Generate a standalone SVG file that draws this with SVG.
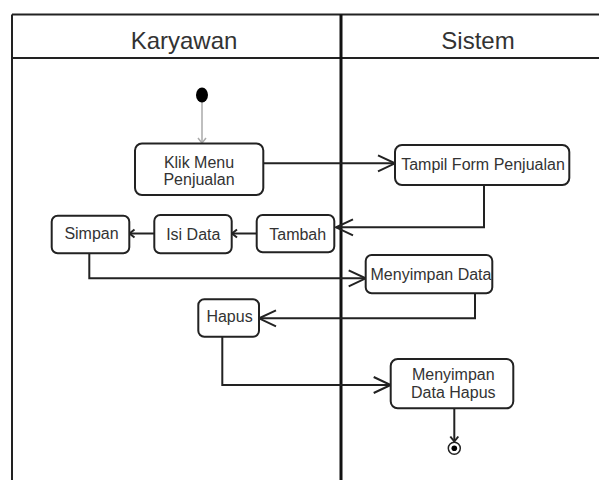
<svg xmlns="http://www.w3.org/2000/svg" width="599" height="480" viewBox="0 0 599 480">
<style>
.lane{stroke:#222;stroke-width:2;fill:none}
.div{stroke:#111;stroke-width:3;fill:none}
.box{fill:#fff;stroke:#222;stroke-width:2}
.t{font-family:"Liberation Sans",Arial,sans-serif;font-size:16px;fill:#333;text-anchor:middle}
.h{font-family:"Liberation Sans",Arial,sans-serif;font-size:24px;fill:#333;text-anchor:middle}
.c{stroke:#222;stroke-width:2;fill:none}
</style>
<defs>
<marker id="open" markerUnits="userSpaceOnUse" viewBox="-20 -10 22 20" refX="0" refY="0" markerWidth="22" markerHeight="20" orient="auto" overflow="visible">
<path d="M-17,-8 L0,0 L-17,8" fill="none" stroke="#222" stroke-width="2"/>
</marker>
<marker id="small" markerUnits="userSpaceOnUse" viewBox="-8 -6 10 12" refX="0" refY="0" markerWidth="10" markerHeight="12" orient="auto" overflow="visible">
<path d="M-5,-4 L0,0 L-5,4" fill="none" stroke="#222" stroke-width="2"/>
</marker>
<marker id="gray" markerUnits="userSpaceOnUse" viewBox="-8 -6 10 12" refX="0" refY="0" markerWidth="10" markerHeight="12" orient="auto" overflow="visible">
<path d="M-5,-4 L0,0 L-5,4" fill="none" stroke="#aaa" stroke-width="1.5"/>
</marker>
</defs>
<rect width="599" height="480" fill="#fff"/>
<g id="swimlanes">
<line class="lane" x1="12" y1="14.5" x2="599" y2="14.5"/>
<line class="lane" x1="12" y1="58" x2="599" y2="58"/>
<line class="lane" x1="12" y1="14.5" x2="12" y2="480"/>
<line class="div" x1="341" y1="14.5" x2="341" y2="480"/>
<text class="h" x="184" y="48.5">Karyawan</text>
<text class="h" x="478" y="48.5">Sistem</text>
</g>
<g id="connectors">
<line x1="202" y1="102" x2="202" y2="143" stroke="#aaa" stroke-width="1.5" marker-end="url(#gray)"/>
<path class="c" d="M263,163.3 L395,163.3" marker-end="url(#open)"/>
<path class="c" d="M484,185 L484,227.3 L336,227.3" marker-end="url(#open)"/>
<path class="c" d="M256.7,233.5 L232,233.5" marker-end="url(#small)"/>
<path class="c" d="M154.3,233.5 L129.5,233.5" marker-end="url(#small)"/>
<path class="c" d="M89.3,253.3 L89.3,278.3 L365.7,278.3" marker-end="url(#open)"/>
<path class="c" d="M475,293.3 L475,318.3 L259,318.3" marker-end="url(#open)"/>
<path class="c" d="M222.3,336.7 L222.3,385 L390.7,385" marker-end="url(#open)"/>
<path class="c" d="M454.3,408.3 L454.3,441.5" marker-end="url(#small)"/>
</g>
<g id="start">
<ellipse cx="202" cy="95" rx="6" ry="7.5" fill="#000"/>
</g>
<g id="klik-menu">
<rect class="box" x="135" y="143.5" width="128.3" height="51.5" rx="7"/>
<text class="t" x="199" y="167.5">Klik Menu</text>
<text class="t" x="199" y="185">Penjualan</text>
</g>
<g id="tampil-form">
<rect class="box" x="395" y="145" width="174.3" height="40" rx="7"/>
<text class="t" x="483" y="169.5">Tampil Form Penjualan</text>
</g>
<g id="tambah">
<rect class="box" x="256.7" y="215" width="77.6" height="37.3" rx="6"/>
<text class="t" x="297.7" y="239.5">Tambah</text>
</g>
<g id="isi-data">
<rect class="box" x="154.3" y="215" width="77.4" height="38.3" rx="6"/>
<text class="t" x="193.3" y="239.5">Isi Data</text>
</g>
<g id="simpan">
<rect class="box" x="51.7" y="215.7" width="77.6" height="37.6" rx="6"/>
<text class="t" x="91.5" y="238.5">Simpan</text>
</g>
<g id="menyimpan-data">
<rect class="box" x="365.7" y="255" width="126.6" height="38.3" rx="6"/>
<text class="t" x="431" y="279.5">Menyimpan Data</text>
</g>
<g id="hapus">
<rect class="box" x="198.3" y="299.3" width="60.7" height="37.4" rx="6"/>
<text class="t" x="229.5" y="322">Hapus</text>
</g>
<g id="menyimpan-data-hapus">
<rect class="box" x="390.7" y="359" width="122.6" height="49.3" rx="7"/>
<text class="t" x="453.3" y="380">Menyimpan</text>
<text class="t" x="453.3" y="398">Data Hapus</text>
</g>
<g id="end">
<circle cx="454.3" cy="448.3" r="6" fill="#fff" stroke="#222" stroke-width="1.5"/>
<circle cx="454.3" cy="448.3" r="2.8" fill="#000"/>
</g>
</svg>
